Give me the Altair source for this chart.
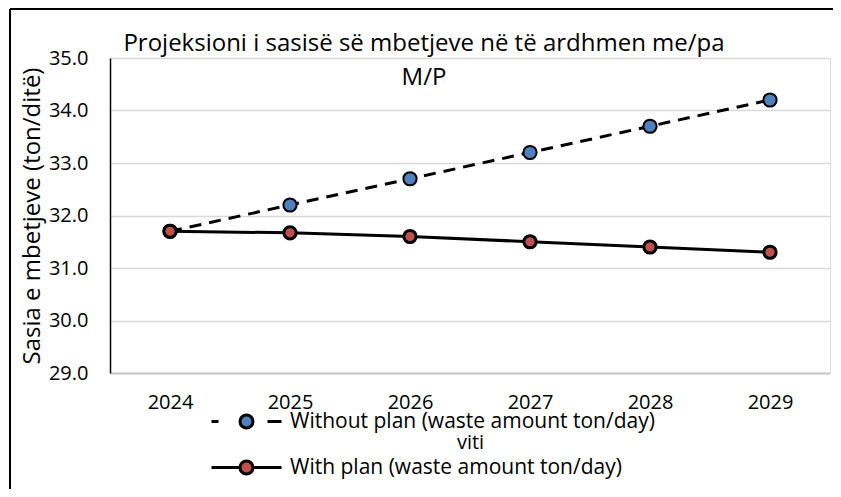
import altair as alt
import pandas as pd

years = ["2024", "2025", "2026", "2027", "2028", "2029"]
without_plan = [31.7, 32.2, 32.7, 33.2, 33.7, 34.2]
with_plan = [31.7, 31.67, 31.6, 31.5, 31.4, 31.3]
series_names = ["Without plan (waste amount ton/day)", "With plan (waste amount ton/day)"]
series_colors = ["#4F81BD", "#C0504D"]

FONT = "Open Sans"

rows = []
for y, v in zip(years, without_plan):
    rows.append({"year": y, "value": v, "series": series_names[0], "fill": series_colors[0]})
for y, v in zip(years, with_plan):
    rows.append({"year": y, "value": v, "series": series_names[1], "fill": series_colors[1]})
df = pd.DataFrame(rows)

base = alt.Chart(df)

x_enc = alt.X("year:N", sort=years, scale=alt.Scale(type="point", padding=0.5),
              axis=alt.Axis(title="viti", labelAngle=0, ticks=False, grid=False,
                            domainColor="#c8c8c8", domainWidth=2,
                            labelFont=FONT, labelFontSize=20, labelColor="black",
                            labelPadding=19, titleFont=FONT, titleFontSize=20,
                            titleFontWeight="normal", titleColor="black", titlePadding=20))
y_enc = alt.Y("value:Q", scale=alt.Scale(domain=[29, 35], nice=False, zero=False),
              axis=alt.Axis(title="Sasia e mbetjeve (ton/ditë)", values=[29, 30, 31, 32, 33, 34, 35],
                            format=".1f", ticks=False, grid=True, gridColor="#d9d9d9", gridWidth=1.5,
                            domainColor="black", domainWidth=1.5,
                            labelFont=FONT, labelFontSize=20, labelColor="black", labelPadding=22,
                            titleFont=FONT, titleFontSize=24, titleFontWeight="normal",
                            titleColor="black", titlePadding=4))

line_without = base.transform_filter(alt.datum.series == series_names[0]).mark_line(
    color="black", strokeWidth=3, strokeDash=[12, 8]).encode(x=x_enc, y=y_enc)
line_with = base.transform_filter(alt.datum.series == series_names[1]).mark_line(
    color="black", strokeWidth=3).encode(x=x_enc, y=y_enc)

pts_without = base.transform_filter(alt.datum.series == series_names[0]).mark_point(
    filled=True, shape="circle", size=175, stroke="black", strokeWidth=2, opacity=1).encode(
    x=x_enc, y=y_enc, fill=alt.Fill("fill:N", scale=None))
pts_with = base.transform_filter(alt.datum.series == series_names[1]).mark_point(
    filled=True, shape="circle", size=150, stroke="black", strokeWidth=3, opacity=1).encode(
    x=x_enc, y=y_enc, fill=alt.Fill("fill:N", scale=None))

r = 0.65
circle = f"M{-r},0A{r},{r} 0 1,1 {r},0A{r},{r} 0 1,1 {-r},0Z"
path_without = f"M-3.5,0L-2.8,0M2.1,0L3.5,0" + circle
path_with = f"M-3.5,0L{-r},0M{r},0L3.5,0" + circle

legend_params = dict(title=None, orient="none", legendX=125, legendY=352, direction="vertical",
                     labelFont=FONT, labelFontSize=21, labelColor="black", labelOffset=32,
                     rowPadding=21, symbolSize=400, symbolStrokeWidth=3, labelLimit=600)

legend_layer = base.transform_filter("datum.value < 0").mark_point(
    filled=True, stroke="black", strokeWidth=3, opacity=1).encode(
    shape=alt.Shape("series:N", scale=alt.Scale(domain=series_names, range=[path_without, path_with]),
                    legend=alt.Legend(**legend_params)),
    fill=alt.Fill("series:N", scale=alt.Scale(domain=series_names, range=series_colors),
                  legend=alt.Legend(**legend_params)),
)

frame_df = pd.DataFrame({"a": [0]})
frame_left = alt.Chart(frame_df).mark_rule(color="black", strokeWidth=2).encode(
    x=alt.value(-100), y=alt.value(-49), y2=alt.value(431))
frame_top = alt.Chart(frame_df).mark_rule(color="black", strokeWidth=2).encode(
    x=alt.value(-100), x2=alt.value(740), y=alt.value(-49))

chart = alt.layer(
    line_without, line_with, pts_without, pts_with, legend_layer, frame_left, frame_top
).properties(
    width=720, height=315,
    autosize=alt.AutoSizeParams(type="none"),
    padding={"left": 102, "top": 50, "right": 3, "bottom": 116},
    title=alt.TitleParams(
        text=["Projeksioni i sasisë së mbetjeve në të ardhmen me/pa", "M/P"],
        anchor="middle", dx=-46, font=FONT, fontSize=24, fontWeight="normal",
        color="black", lineHeight=34, baseline="top", offset=0, dy=82),
).configure_view(stroke="black", strokeWidth=1.5).configure(background="white")

chart.save("out.html", embed_options={"renderer": "svg", "actions": False})
